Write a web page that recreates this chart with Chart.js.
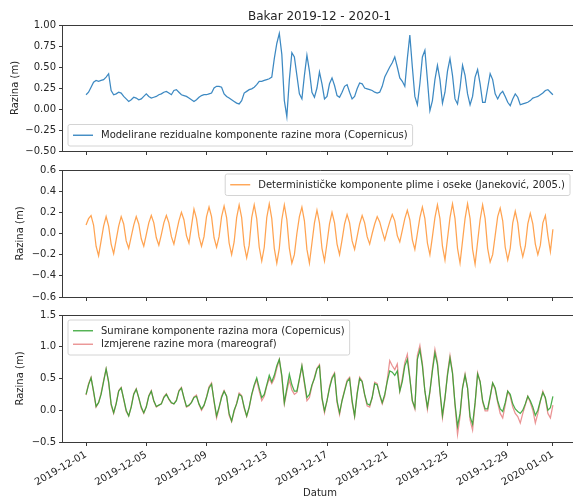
<!DOCTYPE html>
<html>
<head>
<meta charset="utf-8">
<title>Bakar 2019-12 - 2020-1</title>
<script src="https://cdn.jsdelivr.net/npm/chart.js@4.4.1/dist/chart.umd.min.js"></script>
<style>
  html, body { margin: 0; padding: 0; background: #ffffff; overflow: hidden; }
  #wrap { position: relative; width: 577px; height: 499px; }
  #wrap canvas { position: absolute; left: 0; top: 0; }
</style>
</head>
<body>
<div id="wrap">
  <canvas id="c1" width="577" height="499"></canvas>
  <canvas id="c2" width="577" height="499"></canvas>
  <canvas id="c3" width="577" height="499"></canvas>
</div>
<script>
// ---- texts ----
const titleText = 'Bakar 2019-12 - 2020-1';
const yAxisLabel = 'Razina (m)';
const xAxisLabel = 'Datum';
const residualLabel = 'Modelirane rezidualne komponente razine mora (Copernicus)';
const tideLabel = 'Determinističke komponente plime i oseke (Janeković, 2005.)';
const summedLabel = 'Sumirane komponente razina mora (Copernicus)';
const measuredLabel = 'Izmjerene razine mora (mareograf)';

// ---- time axis: samples every 4 hours from 2019-12-01 00:00 ----
const sampleStepHours = 4;
const dateTickDays = [0, 4, 8, 12, 16, 20, 24, 28, 31];
const dateTickLabels = ['2019-12-01', '2019-12-05', '2019-12-09', '2019-12-13', '2019-12-17',
                        '2019-12-21', '2019-12-25', '2019-12-29', '2020-01-01'];

// ---- value axes ----
const residualTicks = [-0.5, -0.25, 0, 0.25, 0.5, 0.75, 1.0];
const residualTickLabels = ['−0.50', '−0.25', '0.00', '0.25', '0.50', '0.75', '1.00'];
const tideTicks = [-0.6, -0.4, -0.2, 0, 0.2, 0.4, 0.6];
const tideTickLabels = ['−0.6', '−0.4', '−0.2', '0.0', '0.2', '0.4', '0.6'];
const levelTicks = [-0.5, 0, 0.5, 1.0, 1.5];
const levelTickLabels = ['−0.5', '0.0', '0.5', '1.0', '1.5'];

// ---- series (m), one row per day ----
const residual = [
  0.17, 0.20, 0.26, 0.32, 0.34, 0.33,
  0.34, 0.35, 0.38, 0.42, 0.22, 0.17,
  0.18, 0.20, 0.19, 0.15, 0.12, 0.09,
  0.11, 0.14, 0.13, 0.11, 0.12, 0.15,
  0.18, 0.15, 0.13, 0.14, 0.15, 0.17,
  0.18, 0.20, 0.21, 0.19, 0.17, 0.22,
  0.23, 0.20, 0.17, 0.16, 0.15, 0.13,
  0.11, 0.09, 0.11, 0.14, 0.16, 0.17,
  0.17, 0.18, 0.19, 0.25, 0.27, 0.27,
  0.26, 0.18, 0.15, 0.13, 0.11, 0.09,
  0.07, 0.06, 0.10, 0.19, 0.21, 0.23,
  0.24, 0.26, 0.29, 0.33, 0.33, 0.34,
  0.35, 0.36, 0.38, 0.60, 0.78, 0.90,
  0.65, 0.10, -0.09, 0.35, 0.67, 0.62,
  0.40, 0.18, 0.12, 0.40, 0.64, 0.45,
  0.20, 0.14, 0.25, 0.44, 0.30, 0.12,
  0.15, 0.30, 0.37, 0.28, 0.16, 0.14,
  0.20, 0.27, 0.29, 0.20, 0.12, 0.15,
  0.24, 0.31, 0.30, 0.25, 0.24, 0.23,
  0.22, 0.20, 0.19, 0.20, 0.27, 0.38,
  0.44, 0.50, 0.55, 0.62, 0.50, 0.37,
  0.33, 0.27, 0.60, 0.88, 0.50, 0.15,
  0.05, 0.30, 0.62, 0.70, 0.35, -0.02,
  0.10, 0.35, 0.52, 0.35, 0.07, 0.20,
  0.45, 0.60, 0.40, 0.12, 0.06, 0.25,
  0.52, 0.40, 0.18, 0.05, 0.15, 0.38,
  0.47, 0.30, 0.08, 0.08, 0.25, 0.42,
  0.35, 0.18, 0.12, 0.18, 0.21, 0.15,
  0.08, 0.04, 0.12, 0.18, 0.14, 0.05,
  0.06, 0.07, 0.08, 0.10, 0.13, 0.14,
  0.15, 0.17, 0.19, 0.22, 0.23, 0.20,
  0.17
];

const tide = [
  0.08, 0.14, 0.17, 0.08, -0.12, -0.21,
  -0.07, 0.07, 0.16, 0.07, -0.10, -0.19,
  -0.06, 0.07, 0.16, 0.09, -0.07, -0.14,
  -0.03, 0.08, 0.16, 0.09, -0.05, -0.12,
  -0.01, 0.10, 0.17, 0.10, -0.04, -0.11,
  -0.01, 0.10, 0.17, 0.10, -0.03, -0.10,
  0.01, 0.12, 0.20, 0.13, -0.02, -0.09,
  0.07, 0.23, 0.14, -0.03, -0.12, -0.03,
  0.16, 0.25, 0.16, -0.04, -0.13, -0.03,
  0.16, 0.26, 0.15, -0.09, -0.20, -0.08,
  0.15, 0.27, 0.15, -0.11, -0.23, -0.11,
  0.15, 0.27, 0.14, -0.13, -0.26, -0.13,
  0.15, 0.28, 0.14, -0.14, -0.28, -0.14,
  0.13, 0.27, 0.13, -0.14, -0.28, -0.20,
  0.00, 0.16, 0.25, 0.12, -0.15, -0.28,
  -0.09, 0.10, 0.22, 0.10, -0.14, -0.26,
  -0.09, 0.09, 0.20, 0.10, -0.10, -0.20,
  -0.06, 0.09, 0.18, 0.10, -0.07, -0.15,
  -0.03, 0.09, 0.17, 0.10, -0.03, -0.10,
  0.00, 0.09, 0.16, 0.11, 0.02, -0.06,
  0.03, 0.11, 0.18, 0.12, -0.02, -0.08,
  0.03, 0.14, 0.22, 0.13, -0.06, -0.15,
  0.00, 0.15, 0.25, 0.14, -0.09, -0.20,
  -0.03, 0.15, 0.27, 0.14, -0.12, -0.25,
  -0.05, 0.15, 0.28, 0.14, -0.14, -0.28,
  -0.07, 0.14, 0.28, 0.14, -0.15, -0.29,
  -0.08, 0.13, 0.27, 0.14, -0.14, -0.27,
  -0.20, -0.02, 0.16, 0.24, 0.12, -0.13,
  -0.25, -0.14, 0.10, 0.21, 0.10, -0.11,
  -0.22, -0.12, 0.09, 0.19, 0.09, -0.10,
  -0.20, -0.11, 0.10, 0.17, -0.02, -0.17,
  0.04
];

const summed = [
  0.25, 0.40, 0.51, 0.30, 0.06, 0.12,
  0.25, 0.45, 0.65, 0.45, 0.10, -0.04,
  0.10, 0.30, 0.35, 0.18, 0.00, -0.09,
  0.05, 0.25, 0.33, 0.20, 0.05, -0.04,
  0.05, 0.22, 0.30, 0.15, 0.06, 0.08,
  0.10, 0.20, 0.25, 0.18, 0.12, 0.10,
  0.15, 0.30, 0.35, 0.20, 0.06, 0.08,
  0.12, 0.20, 0.22, 0.10, 0.02, 0.08,
  0.20, 0.35, 0.41, 0.15, -0.09, 0.05,
  0.20, 0.30, 0.22, -0.05, -0.17, 0.00,
  0.10, 0.25, 0.22, 0.05, -0.09, 0.05,
  0.25, 0.40, 0.51, 0.35, 0.20, 0.25,
  0.40, 0.55, 0.45, 0.55, 0.70, 0.80,
  0.55, 0.12, 0.35, 0.57, 0.40, 0.30,
  0.30, 0.50, 0.70, 0.45, 0.20, 0.25,
  0.40, 0.50, 0.65, 0.70, 0.20, -0.01,
  0.15, 0.35, 0.50, 0.57, 0.15, -0.04,
  0.15, 0.30, 0.45, 0.50, 0.15, -0.09,
  0.25, 0.50, 0.45, 0.25, 0.10, 0.08,
  0.20, 0.42, 0.40, 0.25, 0.12, 0.25,
  0.45, 0.62, 0.60, 0.55, 0.62, 0.30,
  0.45, 0.70, 0.80, 0.50, 0.15, 0.04,
  0.80, 0.95, 0.70, 0.30, 0.05, 0.30,
  0.62, 0.90, 0.72, 0.30, -0.08, 0.20,
  0.55, 0.82, 0.58, 0.10, -0.25, -0.05,
  0.35, 0.55, 0.35, -0.10, -0.22, 0.12,
  0.57, 0.45, 0.15, 0.02, 0.02, 0.22,
  0.43, 0.35, 0.15, 0.02, -0.02, 0.12,
  0.30, 0.25, 0.10, 0.02, -0.02, -0.05,
  0.00, 0.10, 0.22, 0.15, 0.05, -0.08,
  0.00, 0.15, 0.28, 0.20, 0.00, 0.04,
  0.22
];

const measured = [
  0.24, 0.42, 0.52, 0.28, 0.05, 0.12,
  0.27, 0.47, 0.65, 0.43, 0.08, -0.05,
  0.11, 0.31, 0.36, 0.17, -0.02, -0.09,
  0.06, 0.26, 0.34, 0.19, 0.03, -0.05,
  0.06, 0.23, 0.31, 0.14, 0.05, 0.08,
  0.10, 0.21, 0.26, 0.17, 0.11, 0.10,
  0.16, 0.31, 0.36, 0.19, 0.05, 0.07,
  0.13, 0.21, 0.24, 0.09, 0.00, 0.07,
  0.21, 0.37, 0.43, 0.13, -0.12, 0.03,
  0.22, 0.31, 0.22, -0.08, -0.18, -0.02,
  0.11, 0.27, 0.23, 0.03, -0.10, 0.04,
  0.24, 0.38, 0.48, 0.30, 0.15, 0.22,
  0.38, 0.50, 0.42, 0.50, 0.66, 0.80,
  0.52, 0.10, 0.30, 0.48, 0.32, 0.25,
  0.28, 0.48, 0.70, 0.42, 0.15, 0.20,
  0.38, 0.52, 0.66, 0.72, 0.18, -0.04,
  0.15, 0.37, 0.52, 0.59, 0.12, -0.07,
  0.16, 0.32, 0.47, 0.52, 0.12, -0.10,
  0.27, 0.52, 0.46, 0.24, 0.07, 0.05,
  0.20, 0.44, 0.42, 0.23, 0.10, 0.22,
  0.48, 0.78, 0.70, 0.64, 0.73, 0.30,
  0.50, 0.75, 0.88, 0.52, 0.14, 0.02,
  0.86, 1.02, 0.74, 0.30, 0.01, 0.28,
  0.66, 0.96, 0.76, 0.28, -0.12, 0.18,
  0.58, 0.86, 0.60, 0.08, -0.38, -0.10,
  0.36, 0.57, 0.35, -0.15, -0.31, 0.10,
  0.59, 0.45, 0.13, -0.01, -0.01, 0.20,
  0.43, 0.33, 0.12, -0.05, -0.12, 0.08,
  0.30, 0.22, 0.05, -0.05, -0.10, -0.20,
  -0.05, 0.08, 0.22, 0.12, 0.00, -0.20,
  -0.05, 0.14, 0.30, 0.18, -0.05, -0.12,
  0.08
];

// ---- styling ----
const FONT = '"DejaVu Sans", "Liberation Sans", sans-serif';
const TEXT = '#262626';
const SPINE = '#3a3a3a';
const BLUE = '#3d89c2';
const ORANGE = 'rgba(255, 127, 14, 0.72)';
const GREEN = 'rgba(44, 160, 44, 0.85)';
const RED = 'rgba(214, 39, 40, 0.5)';

Chart.defaults.font.family = FONT;
Chart.defaults.font.size = 10;
Chart.defaults.color = TEXT;

const stepDays = sampleStepHours / 24;
const toPoints = arr => arr.map((v, i) => ({ x: i * stepDays, y: v }));

// frame (left, top, bottom spines), legend box and title drawn over each panel
const panelDecor = {
  id: 'panelDecor',
  afterDraw(chart, args, opts) {
    const ctx = chart.ctx;
    const a = chart.chartArea;
    ctx.save();
    ctx.strokeStyle = SPINE;
    ctx.lineWidth = 1;
    const l = Math.round(a.left) - 0.5, t = Math.round(a.top) + 0.5;
    const b = Math.round(a.bottom) + 0.5, r = chart.width + 2;
    ctx.beginPath();
    ctx.moveTo(r, t); ctx.lineTo(l, t); ctx.lineTo(l, b); ctx.lineTo(r, b);
    ctx.stroke();

    // legend
    if (opts.legend) {
      const lg = opts.legend;
      const pad = 5, handle = 20, gap = 8, pitch = 13.5, textH = 11.5;
      ctx.font = '10px ' + FONT;
      const tw = Math.max(...lg.items.map(it => ctx.measureText(it.label).width));
      const w = pad + handle + gap + tw + pad;
      const h = 2 * pad + textH + (lg.items.length - 1) * pitch;
      let x, y;
      if (lg.loc === 'lower left') { x = a.left + 5; y = a.bottom - 5 - h; }
      else if (lg.loc === 'upper right') { x = 570 - w; y = a.top + 4; }
      else { x = a.left + 5; y = a.top + 5; }
      const rr = 2;
      ctx.beginPath();
      ctx.moveTo(x + rr, y);
      ctx.lineTo(x + w - rr, y); ctx.quadraticCurveTo(x + w, y, x + w, y + rr);
      ctx.lineTo(x + w, y + h - rr); ctx.quadraticCurveTo(x + w, y + h, x + w - rr, y + h);
      ctx.lineTo(x + rr, y + h); ctx.quadraticCurveTo(x, y + h, x, y + h - rr);
      ctx.lineTo(x, y + rr); ctx.quadraticCurveTo(x, y, x + rr, y);
      ctx.closePath();
      ctx.fillStyle = 'rgba(255,255,255,0.8)';
      ctx.fill();
      ctx.strokeStyle = '#d4d4d4';
      ctx.stroke();
      lg.items.forEach((it, i) => {
        const cy = y + pad + textH / 2 + i * pitch;
        ctx.strokeStyle = it.color;
        ctx.lineWidth = 1.4;
        ctx.beginPath();
        ctx.moveTo(x + pad, cy);
        ctx.lineTo(x + pad + handle, cy);
        ctx.stroke();
        ctx.fillStyle = TEXT;
        ctx.textAlign = 'left';
        ctx.textBaseline = 'middle';
        ctx.fillText(it.label, x + pad + handle + gap, cy + 0.5);
      });
    }

    // figure title
    if (opts.title) {
      ctx.font = '12px ' + FONT;
      ctx.fillStyle = TEXT;
      ctx.textAlign = 'center';
      ctx.textBaseline = 'alphabetic';
      ctx.fillText(opts.title, 319.5, a.top - 5);
    }
    ctx.restore();
  }
};

function makePanel(canvasId, cfg) {
  const tickGrid = {
    display: true, drawOnChartArea: false, drawTicks: true,
    tickLength: 4, color: SPINE, lineWidth: 1
  };
  return new Chart(document.getElementById(canvasId), {
    type: 'line',
    data: {
      datasets: cfg.series.map(s => ({
        label: s.label,
        data: toPoints(s.values),
        borderColor: s.color,
        borderWidth: 1.25,
        pointRadius: 0,
        tension: 0,
        fill: false
      }))
    },
    plugins: [panelDecor],
    options: {
      responsive: false,
      animation: false,
      events: [],
      layout: { padding: { top: cfg.top, left: 0, right: 0, bottom: 0 } },
      plugins: {
        legend: { display: false },
        tooltip: { enabled: false },
        panelDecor: { legend: cfg.legend, title: cfg.title }
      },
      scales: {
        x: {
          type: 'linear',
          min: -1.53,
          max: 32.6,
          afterBuildTicks(scale) { scale.ticks = dateTickDays.map(v => ({ value: v })); },
          afterFit(scale) { scale.height = 499 - cfg.bottom; scale.paddingLeft = 0; scale.paddingRight = 0; },
          grid: tickGrid,
          border: { display: false },
          ticks: {
            display: cfg.showDates,
            autoSkip: false,
            minRotation: 30,
            maxRotation: 30,
            padding: 3,
            color: TEXT,
            font: { size: 10 },
            callback: (v, i) => dateTickLabels[i]
          },
          title: {
            display: cfg.showDates,
            text: xAxisLabel,
            color: TEXT,
            font: { size: 10 },
            padding: { top: 0, bottom: 0 }
          }
        },
        y: {
          type: 'linear',
          min: cfg.yTicks[0],
          max: cfg.yTicks[cfg.yTicks.length - 1],
          afterBuildTicks(scale) { scale.ticks = cfg.yTicks.map(v => ({ value: v })); },
          afterFit(scale) { scale.width = 63; scale.paddingTop = 0; scale.paddingBottom = 0; },
          grid: tickGrid,
          border: { display: false },
          ticks: {
            padding: 3,
            color: TEXT,
            font: { size: 10 },
            callback: (v, i) => cfg.yLabels[i]
          },
          title: {
            display: true,
            text: yAxisLabel,
            color: TEXT,
            font: { size: 10 },
            padding: { top: cfg.yTitleInset, bottom: 0 }
          }
        }
      }
    }
  });
}

makePanel('c1', {
  top: 25, bottom: 151,
  yTicks: residualTicks, yLabels: residualTickLabels, yTitleInset: 9,
  showDates: false, title: titleText,
  series: [{ label: residualLabel, values: residual, color: BLUE }],
  legend: { loc: 'lower left', items: [{ label: residualLabel, color: BLUE }] }
});

makePanel('c2', {
  top: 170, bottom: 297,
  yTicks: tideTicks, yLabels: tideTickLabels, yTitleInset: 14,
  showDates: false,
  series: [{ label: tideLabel, values: tide, color: ORANGE }],
  legend: { loc: 'upper right', items: [{ label: tideLabel, color: ORANGE }] }
});

makePanel('c3', {
  top: 315, bottom: 442,
  yTicks: levelTicks, yLabels: levelTickLabels, yTitleInset: 14,
  showDates: true,
  series: [
    { label: summedLabel, values: summed, color: GREEN },
    { label: measuredLabel, values: measured, color: RED }
  ],
  legend: { loc: 'upper left', items: [
    { label: summedLabel, color: GREEN },
    { label: measuredLabel, color: RED }
  ] }
});
</script>
</body>
</html>
